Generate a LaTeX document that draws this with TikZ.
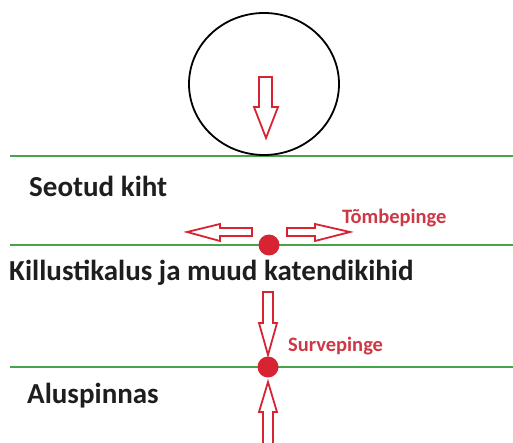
\documentclass[tikz,border=0pt]{standalone}
\usepackage{fontspec}
\setmainfont{Carlito}
\definecolor{lgreen}{RGB}{70,165,75}
\definecolor{ared}{RGB}{215,35,50}
\definecolor{tred}{RGB}{205,55,70}
\definecolor{tblack}{RGB}{30,30,30}
\begin{document}
\begin{tikzpicture}[x=1pt,y=-1pt,
  layer/.style={draw=lgreen,line width=2.6pt},
  hollow/.style={draw=ared,line width=1.8pt,fill=white,line join=miter},
  dot/.style={circle,fill=ared,inner sep=0pt,minimum size=21pt},
  lbl/.style={font=\bfseries\fontsize{29}{32}\selectfont,text=tblack,anchor=west,inner sep=0pt},
  rlbl/.style={font=\bfseries\fontsize{20.5}{24}\selectfont,text=tred,anchor=west,inner sep=0pt}]
\useasboundingbox (0,0) rectangle (513,443);
% layer lines
\draw[layer] (10,156) -- (513,156);
\draw[layer] (10,245) -- (513,245);
\draw[layer] (10,367) -- (513,367);
% wheel
\draw[line width=1.8pt] (264,84) ellipse [x radius=75, y radius=71];
% load arrow
\draw[hollow] (259,77) -- (272,77) -- (272,107) -- (278,107) -- (266,138) -- (254,107) -- (259,107) -- cycle;
% tension arrows
\draw[hollow] (252,228) -- (220,228) -- (220,224) -- (187,232) -- (220,241) -- (220,236) -- (252,236) -- cycle;
\draw[hollow] (287,228) -- (315,228) -- (315,224) -- (350,232) -- (315,241) -- (315,236) -- (287,236) -- cycle;
% compression arrows
\draw[hollow] (263,292) -- (273,292) -- (273,323) -- (277,323) -- (268,355) -- (259,323) -- (263,323) -- cycle;
\draw[hollow] (263,445) -- (263,412) -- (259,412) -- (268,382) -- (277,412) -- (273,412) -- (273,445);
% dots
\node[dot] (d1) at (269,245) {};
\node[dot] (d2) at (268,367) {};
% labels
\node[lbl] (l1) at (29,186) {Seotud kiht};
\node[lbl] (l2) at (9,273) {Killustikalus ja muud katendikihid};
\node[lbl] (l3) at (27,396) {Aluspinnas};
\node[rlbl] (t1) at (342,218) {Tõmbepinge};
\node[rlbl] (t2) at (288,346) {Survepinge};
\end{tikzpicture}
\end{document}
